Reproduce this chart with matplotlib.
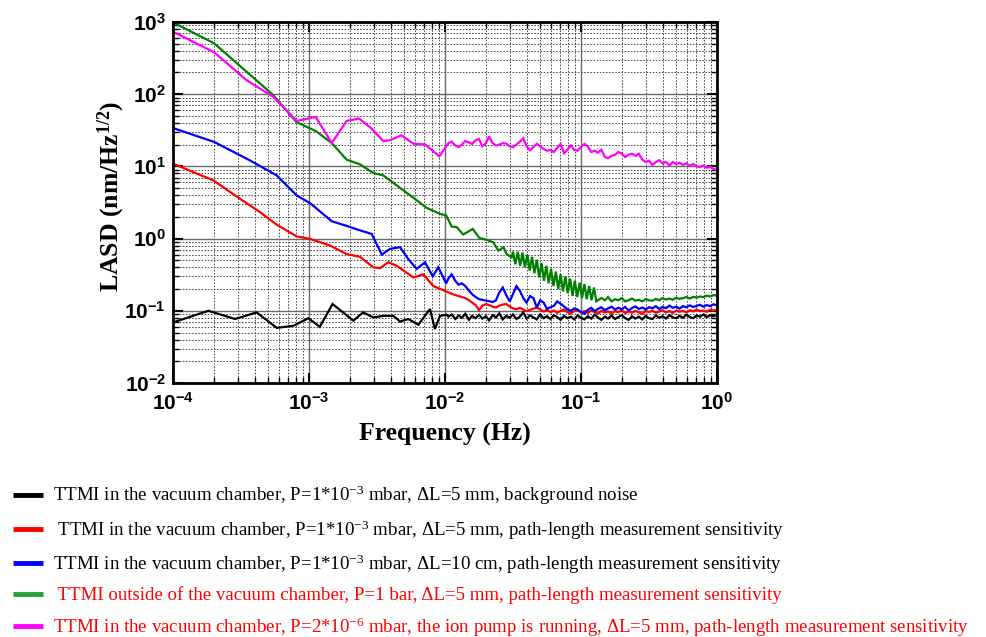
import matplotlib
matplotlib.use("Agg")
import matplotlib.pyplot as plt
import numpy as np
from matplotlib.lines import Line2D
from matplotlib.ticker import LogLocator, FuncFormatter, NullFormatter

plt.rcParams['font.family'] = ['Liberation Serif', 'DejaVu Serif']
plt.rcParams['mathtext.fontset'] = 'custom'
plt.rcParams['mathtext.rm'] = 'Liberation Serif'
plt.rcParams['mathtext.bf'] = 'Liberation Serif:bold'
plt.rcParams['mathtext.sf'] = 'Liberation Sans:bold'
plt.rcParams['mathtext.default'] = 'rm'

# ---------------- data ----------------
# common frequency grid for the dense high-frequency part (Hz)
f_hf = [0.0106, 0.0112, 0.0119, 0.0126, 0.0133, 0.0141, 0.0150, 0.0158, 0.0168, 0.0178,
        0.0188, 0.0200, 0.0211, 0.0224, 0.0237, 0.0251, 0.0266, 0.0282, 0.0299, 0.0316,
        0.0335, 0.0355, 0.0376, 0.0398, 0.0422, 0.0447, 0.0473, 0.0501, 0.0531, 0.0562,
        0.0596, 0.0631, 0.0668, 0.0708, 0.0750, 0.0794, 0.0841, 0.0891, 0.0944, 0.1000,
        0.106, 0.112, 0.119, 0.126, 0.133, 0.141, 0.150, 0.158, 0.168, 0.178,
        0.188, 0.200, 0.211, 0.224, 0.237, 0.251, 0.266, 0.282, 0.299, 0.316,
        0.335, 0.355, 0.376, 0.398, 0.422, 0.447, 0.473, 0.501, 0.531, 0.562,
        0.596, 0.631, 0.668, 0.708, 0.750, 0.794, 0.841, 0.891, 0.944, 1.000]

# black: background noise
black_lo_f = [1.0e-4, 1.82e-4, 2.86e-4, 4.12e-4, 5.79e-4, 7.67e-4, 9.9e-4, 1.2e-3, 1.49e-3,
              2.12e-3, 2.5e-3, 2.97e-3, 3.52e-3, 4.17e-3, 4.67e-3, 5.37e-3, 6.37e-3,
              7.76e-3, 8.43e-3, 9.18e-3, 1.03e-2]
black_lo = [0.069, 0.100, 0.077, 0.095, 0.058, 0.062, 0.079, 0.060, 0.124, 0.073, 0.095,
            0.081, 0.085, 0.085, 0.071, 0.077, 0.064, 0.106, 0.056, 0.085, 0.088]
black_hf = [0.083, 0.089, 0.077, 0.086, 0.080, 0.091, 0.075, 0.085, 0.079, 0.088,
            0.078, 0.084, 0.074, 0.087, 0.081, 0.092, 0.076, 0.085, 0.080, 0.089,
            0.077, 0.083, 0.095, 0.078, 0.086, 0.081, 0.076, 0.089, 0.079, 0.084,
            0.077, 0.087, 0.082, 0.075, 0.085, 0.079, 0.083, 0.076, 0.086, 0.080,
            0.076, 0.084, 0.078, 0.088, 0.081, 0.075, 0.083, 0.078, 0.086, 0.077,
            0.082, 0.087, 0.079, 0.075, 0.084, 0.078, 0.083, 0.076, 0.085, 0.079,
            0.077, 0.086, 0.080, 0.084, 0.078, 0.087, 0.081, 0.079, 0.085, 0.080,
            0.088, 0.082, 0.079, 0.086, 0.083, 0.089, 0.082, 0.087, 0.084, 0.089]

# red: dL=5 mm in vacuum
red_lo_f = [1.0e-4, 1.98e-4, 3.11e-4, 4.37e-4, 5.79e-4, 8.13e-4, 1.02e-3, 1.43e-3, 1.89e-3,
            2.37e-3, 2.97e-3, 3.33e-3, 3.83e-3, 4.42e-3, 5.85e-3, 6.92e-3, 8.2e-3]
red_lo = [10.9, 6.4, 3.56, 2.32, 1.56, 1.07, 0.99, 0.80, 0.61, 0.56, 0.40, 0.39, 0.47,
          0.42, 0.29, 0.32, 0.22]
red_hf = [0.180, 0.172, 0.165, 0.160, 0.155, 0.150, 0.140, 0.130, 0.120, 0.102,
          0.118, 0.124, 0.120, 0.114, 0.111, 0.118, 0.122, 0.124, 0.115, 0.108,
          0.105, 0.110, 0.104, 0.099, 0.103, 0.107, 0.111, 0.104, 0.098, 0.103,
          0.096, 0.101, 0.094, 0.100, 0.104, 0.096, 0.092, 0.099, 0.102, 0.095,
          0.099, 0.093, 0.101, 0.096, 0.091, 0.100, 0.095, 0.098, 0.092, 0.099,
          0.096, 0.101, 0.093, 0.098, 0.094, 0.100, 0.095, 0.091, 0.099, 0.096,
          0.100, 0.094, 0.098, 0.102, 0.095, 0.099, 0.093, 0.101, 0.097, 0.100,
          0.095, 0.102, 0.098, 0.104, 0.099, 0.101, 0.097, 0.104, 0.100, 0.105]

# blue: dL=10 cm in vacuum
blue_lo_f = [1.0e-4, 2.01e-4, 3.68e-4, 5.79e-4, 8.13e-4, 1.02e-3, 1.47e-3, 1.89e-3, 2.31e-3,
             2.89e-3, 3.43e-3, 3.94e-3, 4.67e-3, 5.37e-3, 6.19e-3, 7.13e-3, 8.12e-3,
             8.93e-3, 1.02e-2]
blue_lo = [34, 21.8, 12.1, 7.5, 3.95, 3.09, 1.74, 1.5, 1.32, 1.16, 0.60, 0.72, 0.76, 0.52,
           0.38, 0.47, 0.30, 0.40, 0.24]
blue_hf = [0.280, 0.320, 0.260, 0.230, 0.240, 0.220, 0.190, 0.170, 0.155, 0.145,
           0.142, 0.138, 0.136, 0.132, 0.140, 0.180, 0.210, 0.165, 0.135, 0.170,
           0.220, 0.190, 0.150, 0.130, 0.160, 0.150, 0.111, 0.140, 0.130, 0.106,
           0.112, 0.117, 0.135, 0.125, 0.115, 0.105, 0.100, 0.108, 0.104, 0.096,
           0.091, 0.103, 0.110, 0.099, 0.106, 0.112, 0.102, 0.108, 0.114, 0.104,
           0.110, 0.105, 0.113, 0.101, 0.109, 0.115, 0.106, 0.111, 0.104, 0.112,
           0.108, 0.116, 0.106, 0.113, 0.109, 0.118, 0.110, 0.114, 0.107, 0.116,
           0.112, 0.119, 0.113, 0.117, 0.121, 0.114, 0.120, 0.116, 0.123, 0.118]

# green: outside of the chamber
green_lo_f = [1.0e-4, 2.01e-4, 5.46e-4, 8.11e-4, 1.12e-3, 1.47e-3, 1.89e-3, 2.37e-3, 2.97e-3,
              3.52e-3, 6.19e-3, 7.33e-3, 9.18e-3, 1.02e-2, 1.12e-2, 1.22e-2, 1.36e-2,
              1.60e-2, 1.79e-2, 2.03e-2, 2.26e-2, 2.47e-2, 2.69e-2, 2.84e-2, 3.09e-2]
green_lo = [990, 506, 97, 41, 30.9, 21.1, 12.4, 10.7, 8.1, 7.5, 3.4, 2.67, 2.2, 2.09, 1.47,
            1.44, 1.14, 1.36, 1.02, 0.96, 0.89, 0.68, 0.76, 0.61, 0.55]
# saw-tooth region of the green trace (peak / trough pairs)
green_osc_f = [0.03162, 0.03292, 0.03428, 0.03569, 0.03715, 0.03868, 0.04027, 0.04193,
               0.04365, 0.04545, 0.04732, 0.04926, 0.05129, 0.05340, 0.05559, 0.05788,
               0.06026, 0.06273, 0.06531, 0.06800, 0.07079, 0.07370, 0.07674, 0.07989,
               0.08318, 0.08660, 0.09016, 0.09386, 0.09772, 0.1017, 0.1059, 0.1102,
               0.1148, 0.1195, 0.1245, 0.1296]
green_osc = [0.66, 0.44, 0.66, 0.42, 0.64, 0.40, 0.60, 0.36, 0.56, 0.33,
             0.51, 0.29, 0.46, 0.26, 0.42, 0.24, 0.38, 0.22, 0.35, 0.20,
             0.32, 0.185, 0.30, 0.175, 0.28, 0.16, 0.26, 0.155, 0.245, 0.15,
             0.235, 0.145, 0.22, 0.14, 0.21, 0.135]
green_tail = [0.150, 0.140, 0.155, 0.135, 0.145, 0.140, 0.150, 0.135, 0.140, 0.148,
              0.138, 0.142, 0.135, 0.145, 0.140, 0.138, 0.146, 0.140, 0.150, 0.143,
              0.148, 0.142, 0.152, 0.146, 0.150, 0.155, 0.148, 0.156, 0.152, 0.158,
              0.155, 0.162, 0.158, 0.165, 0.162]

# magenta: ion pump running
mag_lo_f = [1.0e-4, 2.01e-4, 3.48e-4, 5.46e-4, 8.13e-4, 1.12e-3, 1.47e-3, 1.89e-3, 2.34e-3,
            2.89e-3, 3.52e-3, 3.94e-3, 4.79e-3, 5.85e-3, 7.13e-3, 9.1e-3]
mag_lo = [733, 380, 156, 92, 42.6, 48.4, 21.1, 42.6, 46, 33.4, 22.4, 23, 27, 20.6, 20.2, 13.8]
mag_hf = [21, 22, 19.5, 18.5, 20, 22.5, 21.5, 20.5, 23, 24,
          19, 21, 26, 21, 19.5, 20, 21, 20.6, 19, 18.5,
          20, 22, 24.5, 19, 16.7, 18.5, 20.6, 19, 17.5, 16.5,
          16.8, 15.8, 18, 20.5, 15.2, 17, 19.5, 17, 16.5, 18.5,
          20.5, 19, 15.8, 16.5, 15.5, 17, 13.5, 13, 14, 14.5,
          15.8, 15, 13.5, 14.5, 15, 14, 15, 12.5, 11.5, 12,
          10.5, 11.5, 12.2, 11, 11.5, 10.3, 11.5, 10.8, 11.2, 10.5,
          11, 10.2, 10.8, 10, 9.8, 10.3, 9.6, 9.9, 9.3, 8.8]

labels = [
    'TTMI in the vacuum chamber, P=1*10$^{-3}$ mbar, \u0394L=5 mm, background noise',
    ' TTMI in the vacuum chamber, P=1*10$^{-3}$ mbar, \u0394L=5 mm, path-length measurement sensitivity',
    'TTMI in the vacuum chamber, P=1*10$^{-3}$ mbar, \u0394L=10 cm, path-length measurement sensitivity',
    ' TTMI outside of the vacuum chamber, P=1 bar, \u0394L=5 mm, path-length measurement sensitivity',
    'TTMI in the vacuum chamber, P=2*10$^{-6}$ mbar, the ion pump is running, \u0394L=5 mm, '
    'path-length measurement sensitivity',
]
line_colors = ['#000000', '#ff0000', '#0000ff', '#008000', '#ff00ff']
legend_colors = ['#000000', '#ff0000', '#0000ff', '#22a03c', '#ff00ff']
text_colors = ['black', 'black', 'black', '#ff0000', '#ff0000']

# ---------------- figure ----------------
fig = plt.figure(figsize=(9.86, 6.37), dpi=100)
ax = fig.add_axes([173 / 986, 1 - 383 / 637, 544 / 986, 361 / 637])

series = [
    (black_lo_f + f_hf, black_lo + black_hf),
    (red_lo_f + f_hf, red_lo + red_hf),
    (blue_lo_f + f_hf, blue_lo + blue_hf),
    (green_lo_f + green_osc_f + f_hf[45:], green_lo + green_osc + green_tail),
    (mag_lo_f + f_hf, mag_lo + mag_hf),
]
for (fx, fy), c in zip(series, line_colors):
    ax.plot(fx, fy, color=c, lw=1.6, solid_joinstyle='miter')

ax.set_xscale('log')
ax.set_yscale('log')
ax.set_xlim(1e-4, 1)
ax.set_ylim(1e-2, 1e3)

sub = np.arange(2, 10)
for axis in (ax.xaxis, ax.yaxis):
    axis.set_major_locator(LogLocator(base=10, numticks=20))
    axis.set_minor_locator(LogLocator(base=10, subs=sub, numticks=100))
    axis.set_minor_formatter(NullFormatter())
    axis.set_major_formatter(FuncFormatter(
        lambda v, pos: r'$\mathsf{10^{%d}}$' % int(round(np.log10(v)))))

ax.grid(which='major', color='#6a6a6a', linestyle='-', linewidth=1.0)
ax.grid(which='minor', color='#4a4a4a', linestyle=(0, (1.6, 1.6)), linewidth=0.7)
ax.set_axisbelow(True)

ax.tick_params(which='major', direction='in', length=7, width=1.5, top=True, right=True,
               labelsize=15)
ax.tick_params(which='minor', direction='in', length=4, width=1.0, top=True, right=True)
ax.tick_params(axis='x', which='major', pad=7)
ax.tick_params(axis='y', which='major', pad=5)
for s in ax.spines.values():
    s.set_linewidth(2.0)

ax.set_xlabel('Frequency (Hz)', fontsize=18.5, fontweight='bold', labelpad=6)
ax.set_ylabel(r'LASD (nm/Hz$^{\mathbf{1/2}}$)', fontsize=18.5, fontweight='bold')
ax.yaxis.set_label_coords(-0.084, 0.518)

handles = [Line2D([], [], color=c, lw=3.5, solid_capstyle='butt') for c in legend_colors]
leg = fig.legend(handles, labels, loc='upper left', bbox_to_anchor=(13 / 986, 1 - 484 / 637),
                 frameon=False, fontsize=13.6, handlelength=1.6, handletextpad=0.5,
                 labelspacing=0.57, borderpad=0, borderaxespad=0)
for t, c in zip(leg.get_texts(), text_colors):
    t.set_color(c)

fig.savefig('out.png', dpi=100)
